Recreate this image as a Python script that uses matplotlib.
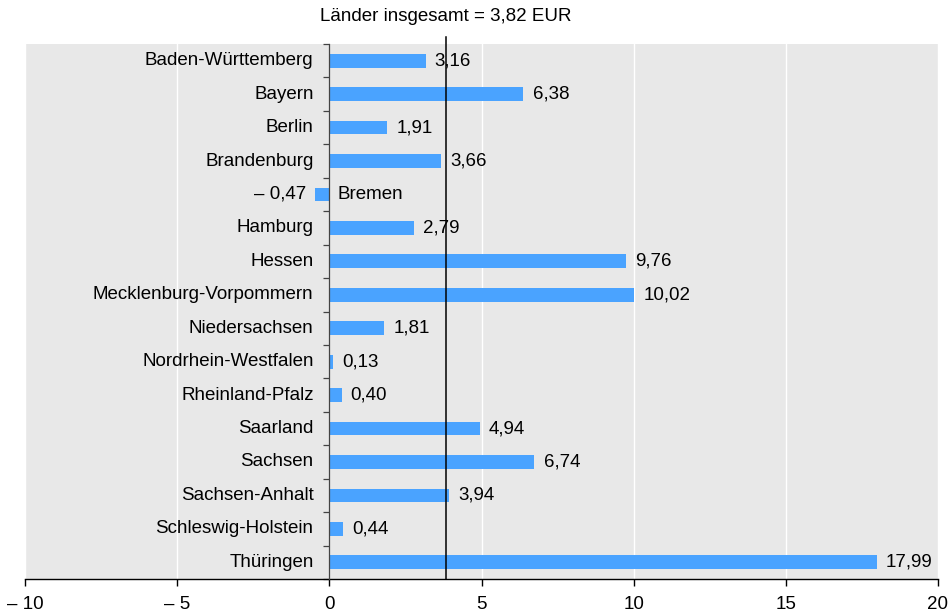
import matplotlib
matplotlib.use("Agg")
import matplotlib.pyplot as plt
import matplotlib.transforms as mtransforms
import numpy as np

plt.rcParams["font.family"] = ["Liberation Sans", "DejaVu Sans"]

# Data
laender = ["Baden-Württemberg", "Bayern", "Berlin", "Brandenburg", "Bremen",
           "Hamburg", "Hessen", "Mecklenburg-Vorpommern", "Niedersachsen",
           "Nordrhein-Westfalen", "Rheinland-Pfalz", "Saarland", "Sachsen",
           "Sachsen-Anhalt", "Schleswig-Holstein", "Thüringen"]
werte = [3.16, 6.38, 1.91, 3.66, -0.47, 2.79, 9.76, 10.02, 1.81, 0.13,
         0.40, 4.94, 6.74, 3.94, 0.44, 17.99]
gesamt = 3.82
xticks = [-10, -5, 0, 5, 10, 15, 20]

FS = 13.5


def fmt(v):
    s = f"{abs(v):.2f}".replace(".", ",")
    return ("– " + s) if v < 0 else s


fig = plt.figure(figsize=(9.49, 6.15), dpi=100)
ax = fig.add_axes([25 / 949, 36 / 615, 913 / 949, 535 / 615])
ax.set_facecolor("#e8e8e8")

pos = np.arange(len(laender))
ax.barh(pos, werte, height=0.41, color="#4aa3ff", zorder=3)
ax.set_xlim(-10, 20)
ax.set_ylim(len(laender) - 0.5, -0.5)

# grid
for x in xticks:
    if x != 0:
        ax.axvline(x, color="white", lw=1.0, zorder=1)

# spines
for s in ["top", "right"]:
    ax.spines[s].set_visible(False)
ax.spines["left"].set_position(("data", 0))
ax.spines["left"].set_color("#444444")
ax.spines["left"].set_linewidth(0.9)
ax.spines["left"].set_zorder(4)
ax.spines["bottom"].set_color("black")
ax.spines["bottom"].set_linewidth(1.0)

ax.set_yticks([])
ax.set_yticks(np.arange(-0.5, len(laender), 1), minor=True)
ax.tick_params(axis="y", which="minor", length=4.3, width=0.9, color="#444444", direction="out")

ax.set_xticks(xticks)
ax.set_xticklabels([("– " + str(abs(t))) if t < 0 else str(t) for t in xticks])
ax.tick_params(axis="x", length=5, width=1.0, pad=7, labelsize=FS)

# labels
for p, name, v in zip(pos, laender, werte):
    if v >= 0:
        ax.text(-0.52, p, name, ha="right", va="center", fontsize=FS, zorder=5)
        ax.text(v + 0.3, p, fmt(v), ha="left", va="center", fontsize=FS, zorder=5)
    else:
        ax.text(0.28, p, name, ha="left", va="center", fontsize=FS, zorder=5)
        ax.text(v - 0.3, p, fmt(v), ha="right", va="center", fontsize=FS, zorder=5)

# total line
ax.axvline(gesamt, ymin=0, ymax=1.014, color="black", lw=1.1, clip_on=False, zorder=4)
trans = mtransforms.blended_transform_factory(ax.transData, ax.transAxes)
ax.text(gesamt, 1.052, "Länder insgesamt = " + fmt(gesamt) + " EUR", transform=trans,
        ha="center", va="center", fontsize=FS)

fig.savefig("out.png", dpi=100)
